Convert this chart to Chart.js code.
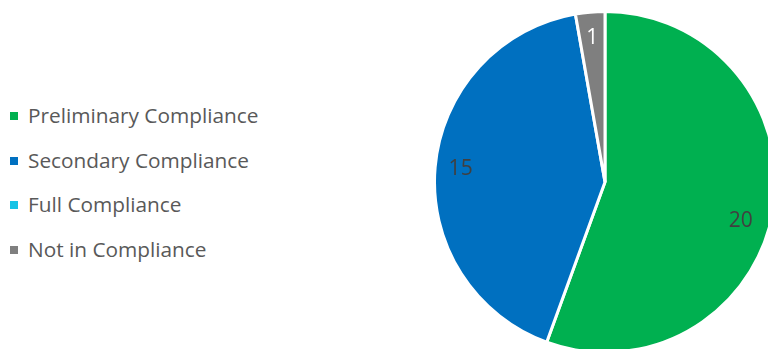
<!DOCTYPE html>
<html>
<head>
<meta charset="utf-8">
<script src="https://cdn.jsdelivr.net/npm/chart.js@4"></script>
<style>
  html, body {
    margin: 0;
    padding: 0;
    width: 768px;
    height: 349px;
    overflow: hidden;
    background: #ffffff;
    font-family: "Open Sans", "Noto Sans", sans-serif;
  }
  #legend {
    position: absolute;
    left: 10px;
    top: 0;
  }
  .legend-item {
    position: absolute;
    left: 0;
    white-space: nowrap;
    color: #595959;
    font-size: 20.8px;
    line-height: 24px;
    height: 24px;
  }
  .legend-item .swatch {
    position: absolute;
    left: 0;
    top: 8px;
    width: 8px;
    height: 8px;
  }
  .legend-item .text {
    position: absolute;
    left: 18px;
    top: -1px;
  }
  #pieBox {
    position: absolute;
    left: 433px;
    top: 10px;
    width: 344px;
    height: 344px;
  }
</style>
</head>
<body>
<div id="legend"></div>
<div id="pieBox"><canvas id="complianceChart"></canvas></div>

<script>
const categories = ["Preliminary Compliance", "Secondary Compliance", "Full Compliance", "Not in Compliance"];
const counts = [20, 15, 0, 1];
const sliceColors = ["#00b050", "#0070c0", "#17c3e6", "#7f7f7f"];
const labelColors = ["#404040", "#404040", "#404040", "#ffffff"];

// Legend rows on the left, built from the category list
const legendEl = document.getElementById("legend");
categories.forEach(function (name, i) {
    const row = document.createElement("div");
    row.className = "legend-item";
    row.style.top = (104 + i * 44.5) + "px";
    row.innerHTML = '<span class="swatch" style="background:' + sliceColors[i] + '"></span>' +
                    '<span class="text">' + name + '</span>';
    legendEl.appendChild(row);
});

// Value labels placed inside each slice, near the outer edge
const sliceValueLabels = {
    id: "sliceValueLabels",
    afterDatasetsDraw(chart, args, opts) {
        const ctx = chart.ctx;
        const meta = chart.getDatasetMeta(0);
        const values = chart.data.datasets[0].data;
        ctx.save();
        ctx.font = "21px 'Open Sans', 'Noto Sans', sans-serif";
        ctx.textAlign = "center";
        ctx.textBaseline = "middle";
        meta.data.forEach(function (arc, i) {
            if (!values[i]) return;
            const p = arc.getProps(["x", "y", "startAngle", "endAngle", "outerRadius"], true);
            const mid = (p.startAngle + p.endAngle) / 2;
            const r = p.outerRadius * opts.radiusFactor;
            const nudge = (opts.nudge && opts.nudge[i]) || [0, 0];
            ctx.fillStyle = labelColors[i];
            ctx.fillText(String(values[i]), p.x + Math.cos(mid) * r + nudge[0], p.y + Math.sin(mid) * r + nudge[1]);
        });
        ctx.restore();
    }
};

new Chart(document.getElementById("complianceChart"), {
    type: "pie",
    data: {
        labels: categories,
        datasets: [{
            data: counts,
            backgroundColor: sliceColors,
            borderColor: "#ffffff",
            borderWidth: 3
        }]
    },
    options: {
        responsive: true,
        maintainAspectRatio: false,
        animation: false,
        layout: { padding: 0 },
        plugins: {
            legend: { display: false },
            tooltip: { enabled: false },
            sliceValueLabels: { radiusFactor: 0.85, nudge: { 0: [-7, 14] } }
        }
    },
    plugins: [sliceValueLabels]
});
</script>
</body>
</html>
